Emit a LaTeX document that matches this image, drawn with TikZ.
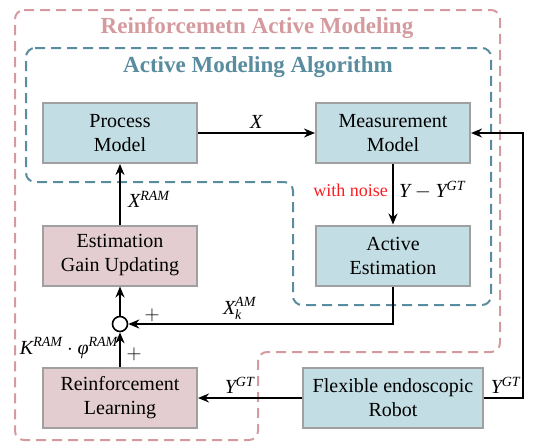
\documentclass[tikz,border=0pt]{standalone}
\usepackage{fontspec}
\setmainfont{Liberation Serif}
\usepackage{amsmath}
\usetikzlibrary{arrows.meta,positioning,calc}
\definecolor{ramred}{RGB}{212,154,158}
\definecolor{amblue}{RGB}{88,140,158}
\definecolor{boxblue}{RGB}{194,221,227}
\definecolor{boxpink}{RGB}{227,205,208}
\definecolor{boxgrey}{RGB}{160,160,160}
\definecolor{noisered}{RGB}{250,30,35}
\newcommand{\mvar}[1]{\textit{#1}}

\begin{document}
\begin{tikzpicture}[x=1pt, y=-1pt,
    box/.style={rectangle, draw=boxgrey, line width=2pt, fill=boxblue,
                 minimum width=154pt, minimum height=60pt, align=center,
                 font=\fontsize{20}{24}\selectfont},
    rlbox/.style={box, fill=boxpink},
    arrow/.style={-{Stealth[length=11pt,width=9pt]}, line width=1.6pt, black},
    lbl/.style={font=\fontsize{20}{24}\selectfont},
    title/.style={font=\fontsize{23}{27}\selectfont\bfseries},
    region/.style={dashed, dash pattern=on 10pt off 6pt, line width=2pt, rounded corners=9pt}
]
\useasboundingbox (0,0) rectangle (534,445);

% dashed regions
\draw[region, draw=ramred] (15,10) -- (500,10) -- (500,352) -- (258,352) -- (258,440) -- (15,440) -- cycle;
\draw[region, draw=amblue] (26,48) -- (491,48) -- (491,305) -- (293,305) -- (293,182) -- (26,182) -- cycle;
\node[title, text=ramred] (ramtitle) at (257,28) {Reinforcemetn Active Modeling};
\node[title, text=amblue] (amtitle) at (258,67) {Active Modeling Algorithm};

% blocks
\node[box] (pm) at (120,133) {Process\\Model};
\node[box] (mm) at (393,133) {Measurement\\Model};
\node[box] (ae) at (393,255.5) {Active\\Estimation};
\node[rlbox] (egu) at (120,255.5) {Estimation\\Gain Updating};
\node[rlbox] (rl) at (120,398) {Reinforcement\\Learning};
\node[box, minimum width=180pt] (robot) at (393,398) {Flexible endoscopic\\Robot};
\node[circle, draw, line width=1.6pt, minimum size=15pt, inner sep=0pt] (sum) at (120,324) {};

% signals
\draw[arrow] (pm) -- node[lbl, above] {\mvar{X}} (mm);
\draw[arrow] (mm) -- node[left, text=noisered, font=\fontsize{18}{22}\selectfont, xshift=-1pt, yshift=4pt] {with noise}
                     node[lbl, right, xshift=2pt, yshift=4pt] {$\mvar{Y}-\mvar{Y}^{\mvar{GT}}$} (ae);
\draw[arrow] (ae.south) |- node[lbl, pos=0.79, above] {$\mvar{X}_{\mvar{k}}^{\mvar{AM}}$} (sum.east);
\draw[arrow] (rl.north) -- node[lbl, left, pos=0.55, xshift=2pt] {$\mvar{K}^{\mvar{RAM}}\cdot\mvar{φ}^{\mvar{RAM}}$} (sum.south);
\draw[arrow] (sum.north) -- (egu.south);
\draw[arrow] (egu.north) -- node[lbl, right, xshift=4pt, yshift=-5pt] {$\mvar{X}^{\mvar{RAM}}$} (pm.south);
\draw[arrow] (robot.west) -- node[lbl, above, pos=0.6] {$\mvar{Y}^{\mvar{GT}}$} (rl.east);
\draw[arrow] (robot.east) -- node[lbl, above, xshift=2pt] {$\mvar{Y}^{\mvar{GT}}$} ++(39,0) |- (mm.east);
\node[lbl] (plusae) at (152,315) {$+$};
\node[lbl] (plusrl) at (134,354) {$+$};
\end{tikzpicture}
\end{document}
